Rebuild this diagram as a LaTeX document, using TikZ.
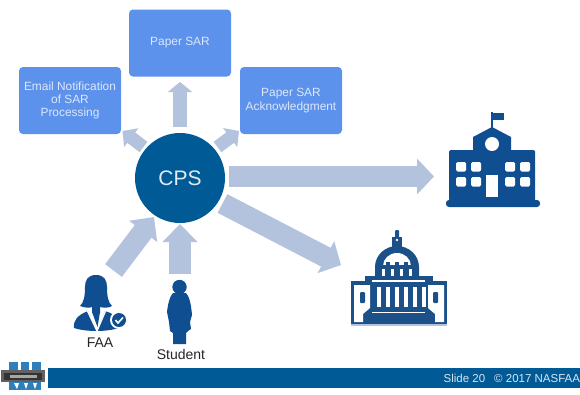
\documentclass[tikz,border=0pt]{standalone}
\usepackage{fontspec}
\setmainfont{Liberation Sans}
\usetikzlibrary{arrows.meta}
\definecolor{boxblue}{HTML}{5C92EC}
\definecolor{boxtext}{HTML}{DCE7FB}
\definecolor{cpsblue}{HTML}{005A96}
\definecolor{arrowblue}{HTML}{B3C3DE}
\definecolor{iconblue}{HTML}{0F4F91}
\definecolor{capblue}{HTML}{1B5088}
\definecolor{logoblue}{HTML}{2F80BA}
\tikzset{
  sarbox/.style={fill=boxblue,rounded corners=4pt,minimum width=102pt,minimum height=67pt,
    align=center,text=boxtext,font=\fontsize{11.9}{13.2}\selectfont,inner sep=0pt},
  cpscircle/.style={circle,fill=cpsblue,minimum size=90pt,inner sep=0pt,text=white!88!cpsblue,font=\fontsize{21}{24}\selectfont},
  blockarrow/.style n args={3}{draw=arrowblue,line width=#1,-{Triangle[length=#2,width=#3,fill=arrowblue]}},
  person/.style={font=\fontsize{14}{17}\selectfont,text=black!85,inner sep=0pt},
  footer/.style={font=\fontsize{11.5}{14}\selectfont,text=white!85!cpsblue,inner sep=0pt,anchor=west},
}
\begin{document}
\begin{tikzpicture}[x=1pt,y=-1pt]
\useasboundingbox (0,0) rectangle (580,394);
\fill[white] (0,0) rectangle (580,394);
% boxes
\node[sarbox] (paper) at (180,43) {Paper SAR};
\node[sarbox] (email) at (70,100.5) {Email Notification\\of SAR\\Processing};
\node[sarbox] (ack) at (291,100.5) {Paper SAR\\Acknowledgment};
% arrow ends
\coordinate (tUp) at (180,127);       \coordinate (hUp) at (180,82);
\coordinate (tLeft) at (143.5,147);   \coordinate (hLeft) at (122.5,131);
\coordinate (tRight) at (217.5,147);  \coordinate (hRight) at (239,131);
\coordinate (tSchool) at (229,176.5); \coordinate (hSchool) at (434,176.5);
\coordinate (tCap) at (222.5,203.5);  \coordinate (hCap) at (341,265);
\coordinate (tFaa) at (113.5,270.5);  \coordinate (hFaa) at (154,217);
\coordinate (tStu) at (180,274);      \coordinate (hStu) at (180,224);
\draw[blockarrow={14pt}{10pt}{24pt}] (tUp) -- (hUp);
\draw[blockarrow={13pt}{11pt}{23pt}] (tLeft) -- (hLeft);
\draw[blockarrow={13pt}{11pt}{23pt}] (tRight) -- (hRight);
\draw[blockarrow={21pt}{17pt}{35pt}] (tSchool) -- (hSchool);
\draw[blockarrow={21pt}{17pt}{35pt}] (tCap) -- (hCap);
\draw[blockarrow={21pt}{18pt}{34pt}] (tFaa) -- (hFaa);
\draw[blockarrow={22pt}{18pt}{34pt}] (tStu) -- (hStu);
\node[cpscircle] (cps) at (180,178) {CPS};
% school
\begin{scope}
\fill[iconblue,rounded corners=1.5pt] (449,150) rectangle (535,201);
\fill[iconblue,rounded corners=3pt] (446,200) rectangle (540,207);
\fill[iconblue] (473,152) -- (473,137) -- (492,127) -- (511,137) -- (511,152) -- cycle;
\fill[iconblue] (491.3,112) rectangle (493,128);
\fill[iconblue] (493,113) rectangle (504,120);
\fill[white] (492,144) circle (7);
\foreach \xx in {456,471,505,520}{
  \foreach \yy in {162,177}{
    \fill[white,rounded corners=1.5pt] (\xx,\yy) rectangle (\xx+10,\yy+9.5);
  }
}
\fill[white] (486,175) rectangle (498,197);
\end{scope}
% capitol
\begin{scope}
\fill[arrowblue] (351,322) rectangle (447,325.5);
\fill[capblue] (351,281) rectangle (447,324);
\fill[capblue] (365,276) rectangle (433,284);
\fill[white] (354,285) -- (370,285) -- (370,308) -- (363,314) -- (363,322) -- (354,322) -- cycle;
\fill[white] (444,285) -- (428,285) -- (428,308) -- (435,314) -- (435,322) -- (444,322) -- cycle;
\fill[capblue,rounded corners=1pt] (360,292) rectangle (365,303);
\fill[capblue,rounded corners=1pt] (433,292) rectangle (438,303);
\foreach \xx in {379,388,397,406,415,424}{
  \fill[white] (\xx-1.8,287) rectangle (\xx+1.8,307);
}
\fill[white] (372,280.3) rectangle (425,281.5);
\fill[white] (372,311.5) rectangle (425,312.7);
\fill[capblue] (375,276) -- (375,267) arc[start angle=180,end angle=360,x radius=22,y radius=21] -- (419,276) -- cycle;
\fill[white] (383,266) arc[start angle=180,end angle=360,x radius=14,y radius=13] -- cycle;
\foreach \xx in {388,397,406}{
  \fill[capblue] (\xx-2,262) rectangle (\xx+2,267);
}
\fill[capblue] (380,265) rectangle (414,268);
\foreach \xx in {383.5,392.5,401.5,410.5}{
  \fill[white] (\xx-1.5,269) rectangle (\xx+1.5,276);
}
\fill[capblue] (392,237) rectangle (402,247);
\fill[capblue,rounded corners=1pt] (395,230) rectangle (399,238);
\fill[white] (397,240) circle (1.3);
\end{scope}
% FAA person
\begin{scope}
\fill[iconblue] (96,275) .. controls (88,275) and (85,280) .. (85,287)
  .. controls (85,296) and (84,302) .. (80,306)
  .. controls (85,308) and (90,308) .. (92,307) -- (92,313) -- (100,313) -- (100,307)
  .. controls (104,308) and (109,308) .. (112,306)
  .. controls (108,302) and (107,296) .. (107,287)
  .. controls (107,280) and (104,275) .. (96,275) -- cycle;
\fill[iconblue] (74,328) .. controls (73,320) and (78,315) .. (88,311) -- (97,331)
  .. controls (88,331) and (80,330) .. (74,328) -- cycle;
\fill[iconblue] (97,331) -- (105,311) .. controls (112,313) and (118,316) .. (120,328)
  .. controls (112,330) and (104,331) .. (97,331) -- cycle;
\fill[iconblue] (92,312) -- (100,312) -- (97.5,327) -- cycle;
\draw[white,line width=1.3pt] (87,310) -- (97,331) -- (106,310);
\fill[white] (119,320) circle (9);
\fill[iconblue] (119,320) circle (7);
\draw[white,line width=1.6pt] (115.5,320) -- (118,323) -- (123,317.5);
\end{scope}
\node[person] (faa) at (100,342.5) {FAA};
% student
\begin{scope}
\fill[iconblue] (179.5,287) circle (7.2);
\fill[iconblue] (173,293) -- (186,293) .. controls (189,296) and (191,303) .. (192,315)
  -- (190,322) -- (191,329) -- (188,331) -- (186,333) -- (186,344) -- (173,344) -- (173,333)
  -- (170,331) -- (169,322) -- (167,312) .. controls (168,303) and (170,296) .. (173,293) -- cycle;
\end{scope}
\node[person] (student) at (181,354.5) {Student};
% footer
\fill[cpsblue] (48,368) rectangle (580,388);
\node[footer] (slide) at (443.5,378.5) {Slide 20};
\node[footer] (copy) at (494,378.5) {© 2017 NASFAA};
% logo
\begin{scope}
\fill[logoblue] (9,362) rectangle (41,390);
\fill[white] (18,362) -- (21,362) -- (21,370) -- (18,370) -- cycle;
\fill[white] (29,362) -- (32,362) -- (32,370) -- (29,370) -- cycle;
\fill[white] (14,383) -- (17,389) -- (19,383) -- cycle;
\fill[white] (24,383) -- (26,389) -- (28,383) -- cycle;
\fill[white] (33,383) -- (35,389) -- (37,383) -- cycle;
\fill[black!62] (1,370) rectangle (45,382);
\fill[black!80] (4,372.5) rectangle (42,379.5);
\fill[black!35] (10,375) rectangle (37,377.5);
\end{scope}
\end{tikzpicture}
\end{document}
